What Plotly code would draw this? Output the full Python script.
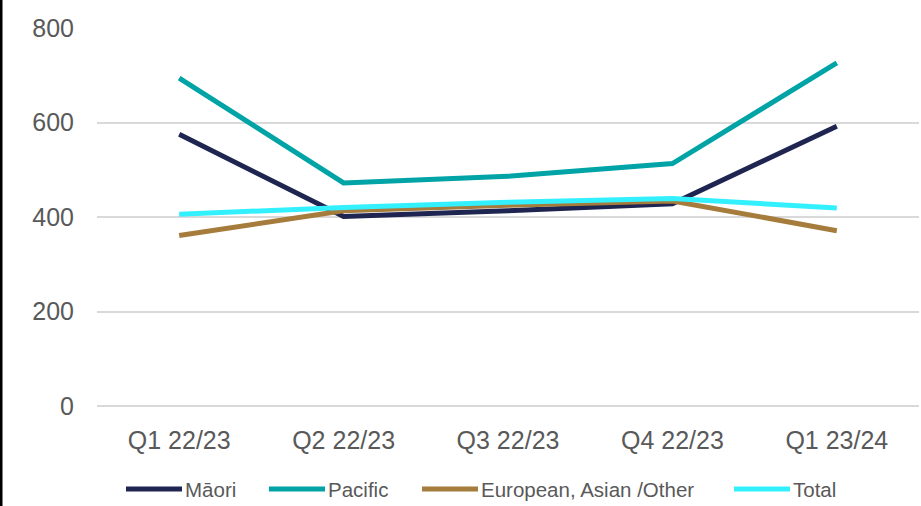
import plotly.graph_objects as go

categories = ["Q1 22/23", "Q2 22/23", "Q3 22/23", "Q4 22/23", "Q1 23/24"]
maori = [575, 401, 413, 428, 592]
pacific = [694, 472, 486, 513, 726]
european = [361, 413, 425, 434, 371]
total = [406, 420, 431, 439, 419]

y_ticks = [0, 200, 400, 600, 800]

series = [
    ("Māori", maori, "#1F2551"),
    ("Pacific", pacific, "#00A3A6"),
    ("European, Asian /Other", european, "#A67C3D"),
    ("Total", total, "#33F0FF"),
]

# layout geometry (pixels)
L, R, T, B = 97, 2, 28, 100
W, H = 921, 506
pw = W - L - R
ph = H - T - B

def px_to_paper_x(px):
    return (px - L) / pw

def py_to_paper_y(py):
    return (H - B - py) / ph

legend_starts = [126, 269, 422, 734]  # left edge of each legend swatch (px)
sw_len = 56
leg_y = py_to_paper_y(489)

fig = go.Figure()
shapes = []
annotations = []
for (name, vals, color), lx in zip(series, legend_starts):
    fig.add_trace(go.Scatter(
        x=categories, y=vals, name=name, mode="lines",
        line=dict(color=color, width=5),
    ))
    shapes.append(dict(type="line", xref="paper", yref="paper",
                       x0=px_to_paper_x(lx), x1=px_to_paper_x(lx + sw_len),
                       y0=leg_y, y1=leg_y, line=dict(color=color, width=5)))
    annotations.append(dict(xref="paper", yref="paper", x=px_to_paper_x(lx + sw_len + 1),
                            y=leg_y, xanchor="left", yanchor="middle", text=name,
                            showarrow=False, font=dict(size=20.5, color="#595959")))

shapes.append(dict(type="line", xref="paper", yref="paper",
                   x0=px_to_paper_x(1), x1=px_to_paper_x(1),
                   y0=-0.4, y1=1.2, line=dict(color="black", width=3)))

fig.update_layout(
    width=W, height=H,
    margin=dict(l=L, r=R, t=T, b=B),
    paper_bgcolor="white", plot_bgcolor="white",
    font=dict(family="Liberation Sans, Arial, sans-serif", color="#595959"),
    showlegend=False,
    xaxis=dict(range=[-0.5, 4.5], showgrid=False, showline=False, zeroline=False, ticks="",
               tickfont=dict(size=25, color="#595959"), ticklabelstandoff=17),
    yaxis=dict(range=[0, 800], tickvals=y_ticks, showgrid=True, gridcolor="#D9D9D9",
               gridwidth=1.5, zeroline=True, zerolinecolor="#D9D9D9", zerolinewidth=1.5,
               showline=False, ticks="", tickfont=dict(size=25, color="#595959"),
               ticklabelstandoff=22),
    shapes=shapes,
    annotations=annotations,
)

fig.write_html("out.html")
